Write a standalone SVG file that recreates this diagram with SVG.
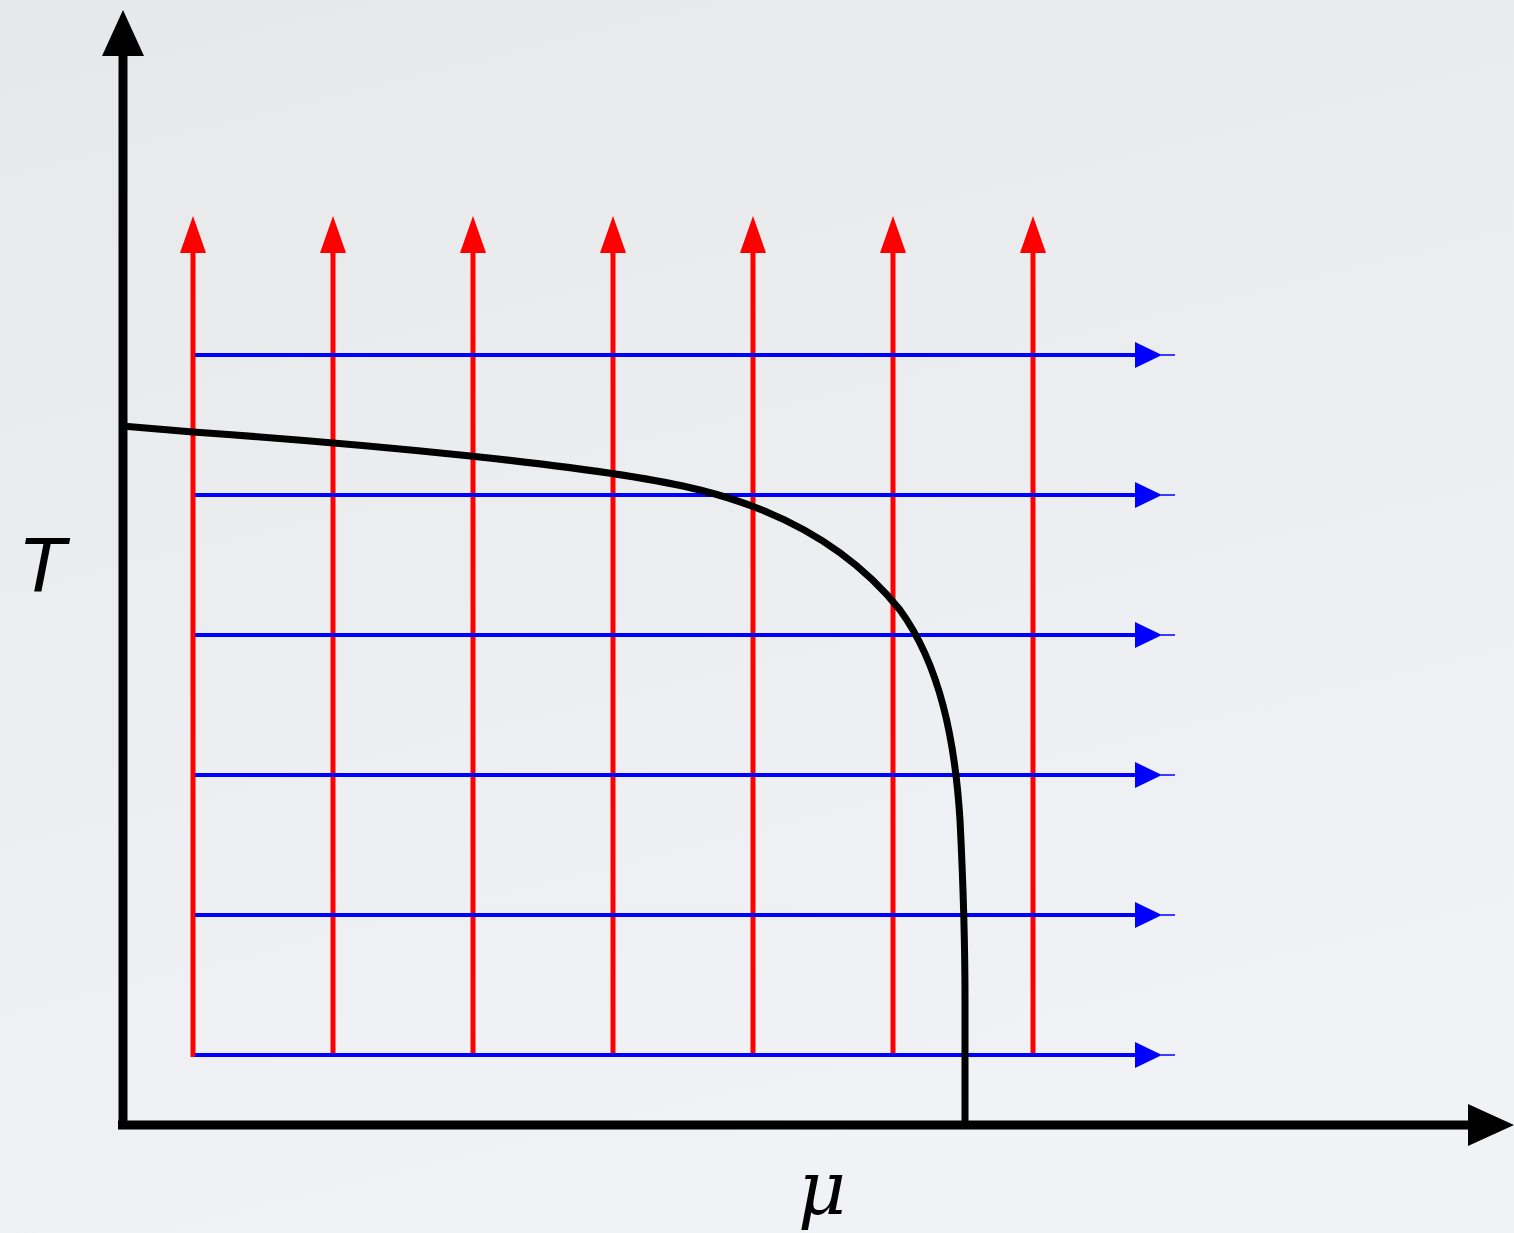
<svg xmlns="http://www.w3.org/2000/svg" width="1514" height="1233" viewBox="0 0 1514 1233">
<style>
.red{stroke:#ff0000;stroke-width:5;fill:none}
.blue{stroke:#0000ff;stroke-width:4;fill:none}
.axis{stroke:#000;stroke-width:9;fill:none}
.curve{stroke:#000;stroke-width:7;fill:none;stroke-linejoin:round}
.lbl{fill:#000;font-style:italic}
</style>
<defs>
<linearGradient id="bg" x1="0" y1="0" x2="0.3" y2="1">
<stop offset="0" stop-color="#e6e8ea"/>
<stop offset="1" stop-color="#f0f2f5"/>
</linearGradient>
<marker id="ar" markerUnits="userSpaceOnUse" viewBox="0 -13 37 26" markerWidth="37" markerHeight="26" refX="0" refY="0" orient="auto">
<path d="M0,-13 L37,0 L0,13 Z" fill="#ff0000"/>
</marker>
<marker id="ab" markerUnits="userSpaceOnUse" viewBox="0 -13 41 26" markerWidth="41" markerHeight="26" refX="0" refY="0" orient="auto">
<path d="M0,-13 L27,0 L0,13 Z" fill="#0000ff"/>
<line x1="26" y1="0" x2="40" y2="0" stroke="#0000ff" stroke-width="1.5"/>
</marker>
<marker id="ak" markerUnits="userSpaceOnUse" viewBox="0 -21 46 42" markerWidth="46" markerHeight="42" refX="0" refY="0" orient="auto">
<path d="M0,-21 L46,0 L0,21 Z" fill="#000"/>
</marker>
</defs>
<rect width="1514" height="1233" fill="url(#bg)"/>
<g id="connectors">
<g id="red-lines">
<line class="red" x1="193" y1="1057" x2="193" y2="253" marker-end="url(#ar)"/>
<line class="red" x1="333" y1="1057" x2="333" y2="253" marker-end="url(#ar)"/>
<line class="red" x1="473" y1="1057" x2="473" y2="253" marker-end="url(#ar)"/>
<line class="red" x1="613" y1="1057" x2="613" y2="253" marker-end="url(#ar)"/>
<line class="red" x1="753" y1="1057" x2="753" y2="253" marker-end="url(#ar)"/>
<line class="red" x1="893" y1="1057" x2="893" y2="253" marker-end="url(#ar)"/>
<line class="red" x1="1033" y1="1057" x2="1033" y2="253" marker-end="url(#ar)"/>
</g>
<g id="blue-lines">
<line class="blue" x1="195" y1="355" x2="1135" y2="355" marker-end="url(#ab)"/>
<line class="blue" x1="195" y1="495" x2="1135" y2="495" marker-end="url(#ab)"/>
<line class="blue" x1="195" y1="635" x2="1135" y2="635" marker-end="url(#ab)"/>
<line class="blue" x1="195" y1="775" x2="1135" y2="775" marker-end="url(#ab)"/>
<line class="blue" x1="195" y1="915" x2="1135" y2="915" marker-end="url(#ab)"/>
<line class="blue" x1="195" y1="1055" x2="1135" y2="1055" marker-end="url(#ab)"/>
</g>
<g id="axes">
<line class="axis" x1="123" y1="1125" x2="123" y2="56" marker-end="url(#ak)"/>
<line class="axis" x1="118" y1="1125" x2="1468" y2="1125" marker-end="url(#ak)"/>
</g>
<path id="phase-boundary" class="curve" d="M122,426 L193,432 C350,443 600,465 700,490 C800,515 860,560 900,610 C940,665 955,740 960,820 C964,900 965,960 965,1000 L965,1125"/>
</g>
<g id="label-T"><text class="lbl" x="18" y="592" font-family="'Liberation Sans', Arial, sans-serif" font-size="78">T</text></g>
<g id="label-mu"><text class="lbl" x="798" y="1214" font-family="'DejaVu Serif', 'Liberation Serif', serif" font-size="74">μ</text></g>
</svg>
